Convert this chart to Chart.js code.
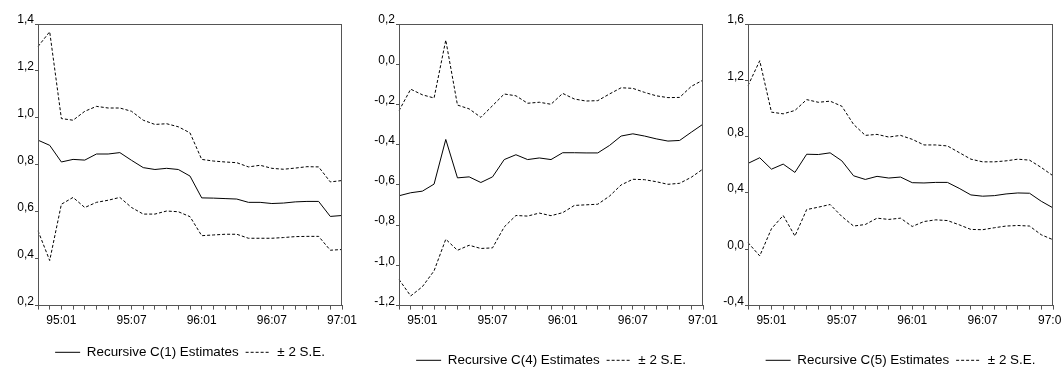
<!DOCTYPE html>
<html>
<head>
<meta charset="utf-8">
<title>Recursive coefficient estimates</title>
<script src="https://cdn.jsdelivr.net/npm/chart.js@4/dist/chart.umd.min.js"></script>
<style>
  html, body { margin: 0; padding: 0; background: #fff; overflow: hidden; }
  body { width: 1062px; height: 367px; position: relative; font-family: "Liberation Sans", Arial, sans-serif; }
  .panel { position: absolute; top: 0; }
</style>
</head>
<body>
<div class="panel" style="left:-2px;width:364px;height:369px"><canvas id="chart1"></canvas></div>
<div class="panel" style="left:359px;width:364px;height:377px"><canvas id="chart4"></canvas></div>
<div class="panel" style="left:708px;width:365px;height:377px"><canvas id="chart5"></canvas></div>
<script>
// monthly sample 94:11 - 97:01
const months = ["94:11", "94:12",
    "95:01", "95:02", "95:03", "95:04", "95:05", "95:06", "95:07", "95:08", "95:09", "95:10", "95:11", "95:12",
    "96:01", "96:02", "96:03", "96:04", "96:05", "96:06", "96:07", "96:08", "96:09", "96:10", "96:11", "96:12",
    "97:01"];

// C(1)
const c1Est = [0.905, 0.883, 0.812, 0.823, 0.820, 0.846, 0.846, 0.852, 0.819, 0.788, 0.780, 0.785, 0.780, 0.752,
    0.659, 0.658, 0.656, 0.654, 0.640, 0.640, 0.635, 0.637, 0.642, 0.644, 0.644, 0.580, 0.584];
const c1Upper = [1.304, 1.367, 0.997, 0.990, 1.028, 1.049, 1.042, 1.042, 1.028, 0.990, 0.972, 0.975, 0.962, 0.936,
    0.823, 0.816, 0.812, 0.809, 0.791, 0.798, 0.785, 0.781, 0.786, 0.792, 0.791, 0.727, 0.733];
const c1Lower = [0.519, 0.392, 0.632, 0.661, 0.618, 0.640, 0.649, 0.661, 0.618, 0.590, 0.590, 0.603, 0.600, 0.579,
    0.498, 0.501, 0.504, 0.504, 0.487, 0.487, 0.487, 0.490, 0.494, 0.495, 0.495, 0.436, 0.439];

// C(4)
const c4Est = [-0.654, -0.639, -0.631, -0.596, -0.374, -0.565, -0.560, -0.588, -0.560, -0.474, -0.450, -0.474, -0.466, -0.474,
    -0.440, -0.440, -0.441, -0.441, -0.404, -0.357, -0.346, -0.357, -0.371, -0.382, -0.379, -0.338, -0.298];
const c4Upper = [-0.231, -0.124, -0.152, -0.168, 0.120, -0.203, -0.222, -0.264, -0.206, -0.148, -0.157, -0.194, -0.189, -0.199,
    -0.145, -0.173, -0.183, -0.181, -0.148, -0.117, -0.120, -0.140, -0.157, -0.166, -0.165, -0.110, -0.079];
const c4Lower = [-1.070, -1.152, -1.106, -1.027, -0.870, -0.925, -0.900, -0.916, -0.913, -0.809, -0.752, -0.755, -0.740, -0.753,
    -0.738, -0.702, -0.699, -0.696, -0.656, -0.600, -0.572, -0.574, -0.584, -0.597, -0.592, -0.562, -0.521];

// C(5)
const c5Est = [0.610, 0.650, 0.569, 0.605, 0.546, 0.675, 0.673, 0.685, 0.628, 0.522, 0.496, 0.518, 0.506, 0.513,
    0.473, 0.471, 0.475, 0.475, 0.433, 0.386, 0.377, 0.381, 0.393, 0.400, 0.398, 0.341, 0.294];
const c5Upper = [1.162, 1.339, 0.974, 0.962, 0.986, 1.063, 1.044, 1.052, 1.016, 0.887, 0.809, 0.816, 0.797, 0.809,
    0.781, 0.741, 0.741, 0.734, 0.687, 0.640, 0.621, 0.621, 0.628, 0.640, 0.633, 0.581, 0.522];
const c5Lower = [0.047, -0.047, 0.146, 0.240, 0.094, 0.282, 0.299, 0.318, 0.233, 0.165, 0.176, 0.221, 0.212, 0.221,
    0.162, 0.197, 0.209, 0.204, 0.174, 0.141, 0.139, 0.153, 0.165, 0.169, 0.165, 0.103, 0.068];

const axisColor = "#555";
const tickFont = { family: "'Liberation Sans', Arial, sans-serif", size: 12 };
const legendFont = { family: "'Liberation Sans', Arial, sans-serif", size: 13.4 };

// box around the plot area
const framePlugin = {
    id: "frame",
    afterDraw(chart) {
        const a = chart.chartArea;
        const ctx = chart.ctx;
        ctx.save();
        ctx.strokeStyle = axisColor;
        ctx.lineWidth = 1;
        ctx.strokeRect(Math.round(a.left) + 0.5, Math.round(a.top) + 0.5, Math.round(a.right - a.left) - 1, Math.round(a.bottom - a.top) - 1);
        ctx.restore();
    }
};

// legend samples: take dash pattern from the dataset line, not from its points
function legendLabels(chart) {
    let items = Chart.defaults.plugins.legend.labels.generateLabels(chart);
    items.forEach(function (it) {
        let ds = chart.data.datasets[it.datasetIndex];
        it.lineDash = ds.borderDash || [];
        it.lineWidth = 1;
        it.strokeStyle = "#000";
    });
    return items;
}

function makeRecursiveChart(canvasId, name, est, upper, lower, yMin, yMax, yStep, axisHeight) {
    let ctx = document.getElementById(canvasId).getContext("2d");
    return new Chart(ctx, {
        type: "line",
        data: {
            labels: months,
            datasets: [{
                label: "Recursive " + name + " Estimates",
                data: est,
                borderColor: "#000",
                borderWidth: 1
            }, {
                label: "± 2 S.E.",
                data: upper,
                borderColor: "#000",
                borderWidth: 1,
                borderDash: [3, 2]
            }, {
                label: "lower",
                data: lower,
                borderColor: "#000",
                borderWidth: 1,
                borderDash: [3, 2]
            }]
        },
        options: {
            responsive: true,
            maintainAspectRatio: false,
            animation: false,
            devicePixelRatio: 1,
            layout: { padding: { left: 6, right: 20, top: 24, bottom: 0 } },
            elements: {
                point: { radius: 0, hoverRadius: 0 },
                line: { tension: 0 }
            },
            scales: {
                x: {
                    grid: { drawOnChartArea: false, drawTicks: true, tickLength: 4, color: axisColor },
                    border: { color: axisColor },
                    ticks: {
                        autoSkip: false,
                        maxRotation: 0,
                        padding: 4,
                        color: "#000",
                        font: tickFont,
                        callback: function (val, i) {
                            let m = months[i];
                            return (m.endsWith(":01") || m.endsWith(":07")) && i > 0 ? m : "";
                        }
                    },
                    afterFit: function (scale) { scale.height = axisHeight; }
                },
                y: {
                    min: yMin,
                    max: yMax,
                    grid: { drawOnChartArea: false, drawTicks: true, tickLength: 3, color: axisColor },
                    border: { color: axisColor },
                    ticks: {
                        stepSize: yStep,
                        padding: 1,
                        labelOffset: -4,
                        color: "#000",
                        font: tickFont,
                        callback: function (v) { return v.toFixed(1).replace(".", ","); }
                    },
                    afterFit: function (scale) { scale.width = 34; }
                }
            },
            plugins: {
                tooltip: { enabled: false },
                legend: {
                    position: "bottom",
                    fullSize: false,
                    labels: {
                        usePointStyle: true,
                        pointStyle: "line",
                        pointStyleWidth: 25,
                        padding: 7,
                        color: "#000",
                        font: legendFont,
                        generateLabels: legendLabels,
                        filter: function (item) { return item.datasetIndex < 2; }
                    }
                }
            }
        },
        plugins: [framePlugin]
    });
}

makeRecursiveChart("chart1", "C(1)", c1Est, c1Upper, c1Lower, 0.2, 1.4, 0.2, 33);
makeRecursiveChart("chart4", "C(4)", c4Est, c4Upper, c4Lower, -1.2, 0.2, 0.2, 41);
makeRecursiveChart("chart5", "C(5)", c5Est, c5Upper, c5Lower, -0.4, 1.6, 0.4, 41);
</script>
</body>
</html>
